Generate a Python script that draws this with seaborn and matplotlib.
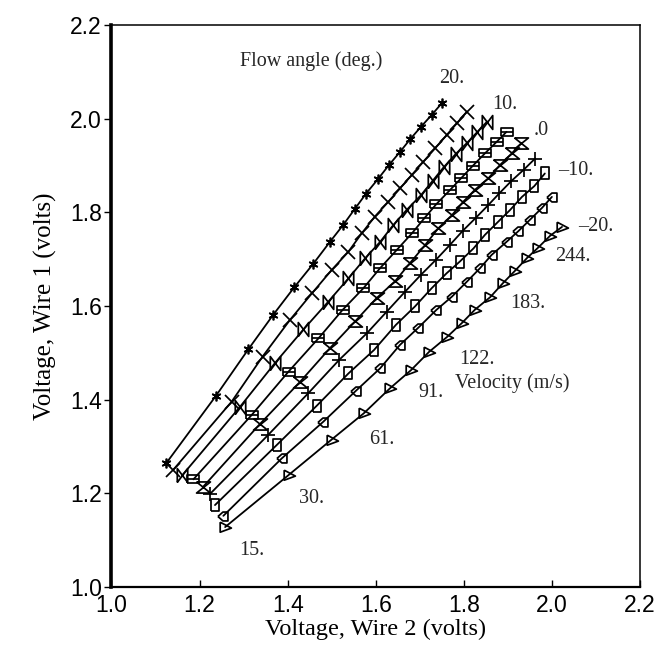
import matplotlib
matplotlib.use("Agg")
import matplotlib.pyplot as plt
from matplotlib.path import Path
import seaborn as sns

# Calibration curves: voltage of wire 2 (x) and wire 1 (y) for each flow angle,
# ordered from the lowest to the highest velocity.
angles = [20, 15, 10, 5, 0, -5, -10, -15, -20]

wire2_20 = [1.124, 1.237, 1.311, 1.367, 1.415, 1.458, 1.496, 1.526, 1.553, 1.578, 1.605, 1.630, 1.655, 1.678, 1.702, 1.727, 1.750]
wire1_20 = [1.264, 1.408, 1.508, 1.581, 1.640, 1.690, 1.737, 1.773, 1.808, 1.840, 1.871, 1.901, 1.929, 1.956, 1.982, 2.008, 2.033]

wire2_15 = [1.140, 1.273, 1.343, 1.405, 1.455, 1.500, 1.538, 1.568, 1.598, 1.629, 1.655, 1.682, 1.708, 1.735, 1.761, 1.784, 1.807]
wire1_15 = [1.250, 1.396, 1.492, 1.570, 1.627, 1.677, 1.716, 1.755, 1.791, 1.823, 1.851, 1.880, 1.908, 1.937, 1.965, 1.990, 2.015]

wire2_10 = [1.161, 1.292, 1.371, 1.436, 1.492, 1.538, 1.576, 1.610, 1.640, 1.670, 1.703, 1.729, 1.754, 1.782, 1.808, 1.831, 1.853]
wire1_10 = [1.239, 1.385, 1.478, 1.550, 1.609, 1.659, 1.702, 1.737, 1.773, 1.805, 1.837, 1.867, 1.896, 1.925, 1.949, 1.972, 1.994]

wire2_5 = [1.186, 1.318, 1.402, 1.470, 1.525, 1.572, 1.610, 1.648, 1.682, 1.710, 1.738, 1.769, 1.794, 1.820, 1.848, 1.875, 1.897]
wire1_5 = [1.230, 1.367, 1.460, 1.531, 1.592, 1.638, 1.681, 1.720, 1.755, 1.787, 1.818, 1.848, 1.873, 1.899, 1.926, 1.951, 1.972]

wire2_0 = [1.208, 1.337, 1.428, 1.496, 1.553, 1.602, 1.644, 1.678, 1.712, 1.742, 1.773, 1.799, 1.825, 1.856, 1.882, 1.909, 1.931]
wire1_0 = [1.214, 1.348, 1.438, 1.510, 1.567, 1.617, 1.653, 1.692, 1.730, 1.766, 1.794, 1.823, 1.848, 1.873, 1.901, 1.926, 1.948]

wire2_m5 = [1.224, 1.356, 1.447, 1.517, 1.580, 1.625, 1.666, 1.702, 1.737, 1.768, 1.798, 1.828, 1.855, 1.881, 1.908, 1.936, 1.962]
wire1_m5 = [1.199, 1.325, 1.414, 1.485, 1.542, 1.588, 1.630, 1.666, 1.699, 1.730, 1.761, 1.789, 1.815, 1.841, 1.867, 1.891, 1.915]

wire2_m10 = [1.235, 1.375, 1.466, 1.538, 1.596, 1.646, 1.689, 1.727, 1.761, 1.791, 1.822, 1.848, 1.878, 1.905, 1.932, 1.960, 1.984]
wire1_m10 = [1.175, 1.303, 1.387, 1.456, 1.506, 1.560, 1.599, 1.638, 1.670, 1.695, 1.723, 1.752, 1.780, 1.805, 1.833, 1.856, 1.883]

wire2_m15 = [1.254, 1.387, 1.481, 1.555, 1.610, 1.655, 1.697, 1.738, 1.773, 1.807, 1.837, 1.863, 1.897, 1.924, 1.950, 1.977, 2.000]
wire1_m15 = [1.152, 1.275, 1.353, 1.419, 1.467, 1.517, 1.554, 1.592, 1.620, 1.652, 1.681, 1.709, 1.737, 1.760, 1.784, 1.809, 1.833]

wire2_m20 = [1.258, 1.402, 1.500, 1.573, 1.632, 1.680, 1.721, 1.762, 1.796, 1.825, 1.860, 1.889, 1.916, 1.944, 1.968, 1.996, 2.023]
wire1_m20 = [1.128, 1.239, 1.315, 1.371, 1.424, 1.463, 1.502, 1.534, 1.564, 1.592, 1.619, 1.649, 1.675, 1.703, 1.724, 1.750, 1.769]

wire2_curves = [wire2_20, wire2_15, wire2_10, wire2_5, wire2_0, wire2_m5, wire2_m10, wire2_m15, wire2_m20]
wire1_curves = [wire1_20, wire1_15, wire1_10, wire1_5, wire1_0, wire1_m5, wire1_m10, wire1_m15, wire1_m20]

angle_labels = ["20.", "10.", ".0", "\u201310.", "\u201320."]
velocity_labels = ["15.", "30.", "61.", "91.", "122.", "183.", "244."]
ticks = [1.0, 1.2, 1.4, 1.6, 1.8, 2.0, 2.2]
tick_labels = ["1.0", "1.2", "1.4", "1.6", "1.8", "2.0", "2.2"]

# label anchor points (data coordinates)
angle_label_pos = [(1.773, 2.085), (1.894, 2.031), (1.975, 1.974), (2.055, 1.890), (2.100, 1.769)]
velocity_label_pos = [(1.319, 1.077), (1.455, 1.190), (1.614, 1.314), (1.725, 1.416),
                      (1.830, 1.485), (1.946, 1.606), (2.048, 1.705)]


def shape(segments):
    """Build a marker path from a list of polylines."""
    verts, codes = [], []
    for seg in segments:
        verts.extend(seg)
        codes.extend([Path.MOVETO] + [Path.LINETO] * (len(seg) - 1))
    return Path(verts, codes)


bowtie = shape([[(-0.75, -1), (0.75, 1), (0.75, -1), (-0.75, 1), (-0.75, -1)]])
hourglass = shape([[(-1, 0.8), (1, 0.8), (-1, -0.8), (1, -0.8), (-1, 0.8)]])
box_bar = shape([[(-1, -0.65), (1, -0.65), (1, 0.65), (-1, 0.65), (-1, -0.65)], [(-1, 0), (1, 0)]])
tall_box = shape([[(-0.65, -1), (0.65, -1), (0.65, 1), (-0.65, 1), (-0.65, -1)]])
pentagon = shape([[(-1, 0), (-0.1, 0.8), (0.8, 0.8), (0.8, -0.8), (-0.1, -0.8), (-1, 0)]])
triangle = shape([[(-0.9, 0.9), (1, -0.1), (-0.9, -0.8), (-0.9, 0.9)]])

marker_styles = [(6, 2, 0), "x", bowtie, box_bar, hourglass, "+", tall_box, pentagon, triangle]
marker_sizes = [7.0, 10.5, 10.0, 8.5, 10.0, 10.5, 8.0, 8.0, 8.5]

sns.set_theme(style="ticks")
plt.rcParams["font.family"] = ["Liberation Sans", "DejaVu Sans"]

fig = plt.figure(figsize=(6.66, 6.47), dpi=100)
ax = fig.add_axes([0.1674, 0.0927, 0.7935, 0.8686])

for xs, ys, m, ms in zip(wire2_curves, wire1_curves, marker_styles, marker_sizes):
    sns.lineplot(x=xs, y=ys, sort=False, estimator=None, ax=ax, color="black",
                 lw=1.3, marker=m, ms=ms, mfc="none", mec="black", mew=1.25,
                 legend=False)

ax.set_xlim(1.0, 2.2)
ax.set_ylim(1.0, 2.2)
ax.set_xticks(ticks)
ax.set_xticklabels(tick_labels)
ax.set_yticks(ticks)
ax.set_yticklabels(tick_labels)
ax.tick_params(axis="x", direction="in", length=5, width=1, labelsize=16.5, pad=5, colors="black")
ax.tick_params(axis="y", direction="out", length=5, width=1, labelsize=16.5, pad=2, colors="black")

for side, lw in (("left", 2.6), ("bottom", 1.6), ("top", 1.1), ("right", 1.1)):
    ax.spines[side].set_visible(True)
    ax.spines[side].set_linewidth(lw)
    ax.spines[side].set_color("black")

serif = ["Liberation Serif", "DejaVu Serif"]
ax.set_xlabel("Voltage, Wire 2 (volts)", family=serif, fontsize=17.5, labelpad=1, color="black")
ax.set_ylabel("Voltage, Wire 1 (volts)", family=serif, fontsize=18, labelpad=9, color="black")

ax.text(1.453, 2.122, "Flow angle (deg.)", family=serif, fontsize=14.5, ha="center", va="center")
for (tx, ty), s in zip(angle_label_pos, angle_labels):
    ax.text(tx, ty, s, family=serif, fontsize=14.5, ha="center", va="center")
for (tx, ty), s in zip(velocity_label_pos, velocity_labels):
    ax.text(tx, ty, s, family=serif, fontsize=14.5, ha="center", va="center")
ax.text(1.911, 1.436, "Velocity (m/s)", family=serif, fontsize=14.5, ha="center", va="center")

fig.savefig("out.png", dpi=100, facecolor="white")
